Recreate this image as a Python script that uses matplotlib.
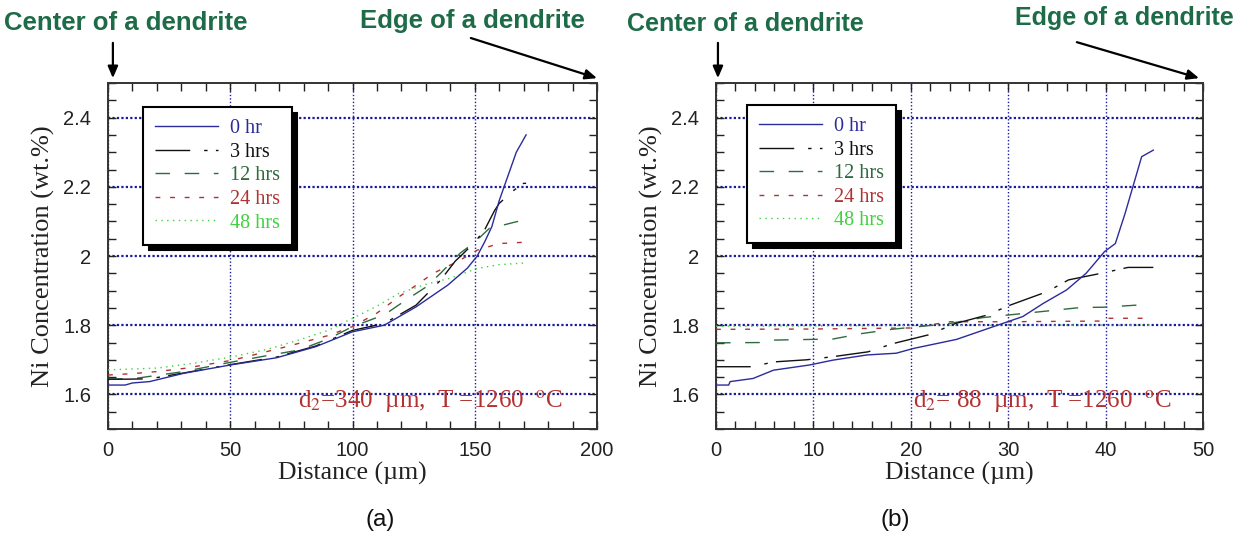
import numpy as np
import matplotlib
matplotlib.use('Agg')
import matplotlib.pyplot as plt
from matplotlib.ticker import MultipleLocator, FixedLocator, FixedFormatter
from matplotlib.lines import Line2D

plt.rcParams['mathtext.fontset'] = 'stix'

# ---- data, panel (a): d2 = 340 um ----
a_0hr_x = [0, 7, 10, 17, 31, 50, 69, 85, 100, 113, 126, 139, 147, 151, 154, 157, 160, 163, 167, 171]
a_0hr_y = [1.627, 1.627, 1.633, 1.637, 1.661, 1.685, 1.706, 1.738, 1.781, 1.80, 1.853, 1.916,
           1.965, 2.00, 2.04, 2.085, 2.16, 2.22, 2.30, 2.35]
a_3hr_x = [0, 7, 17, 31, 50, 69, 85, 100, 113, 126, 136, 142, 145, 150, 154, 158, 160, 166, 170, 171]
a_3hr_y = [1.644, 1.644, 1.645, 1.662, 1.686, 1.708, 1.74, 1.785, 1.805, 1.858, 1.93, 1.985,
           2.005, 2.04, 2.075, 2.13, 2.152, 2.19, 2.21, 2.21]
a_12hr_x = [0, 10, 20, 31, 51, 65, 78, 90, 100, 113, 123, 130, 136, 144, 150, 156, 162, 167, 171]
a_12hr_y = [1.644, 1.645, 1.655, 1.666, 1.694, 1.712, 1.728, 1.76, 1.796, 1.83, 1.878, 1.91,
            1.95, 2.008, 2.04, 2.08, 2.09, 2.099, 2.104]
a_24hr_x = [0, 10, 20, 31, 51, 73, 90, 100, 110, 119, 127, 133, 143, 151, 160, 171]
a_24hr_y = [1.656, 1.66, 1.666, 1.675, 1.699, 1.738, 1.77, 1.796, 1.835, 1.882, 1.92, 1.95,
            1.984, 2.017, 2.036, 2.04]
a_48hr_x = [0, 20, 35, 51, 65, 78, 90, 100, 110, 119, 130, 140, 151, 160, 171]
a_48hr_y = [1.671, 1.676, 1.69, 1.709, 1.73, 1.757, 1.785, 1.82, 1.855, 1.892, 1.918, 1.936,
            1.964, 1.975, 1.98]

# ---- data, panel (b): d2 = 88 um ----
b_0hr_x = [0, 1.3, 1.45, 3.8, 5.9, 9.6, 12, 15.5, 18.5, 20.3, 24.7, 28.5, 31.5, 33.6, 36, 38,
           39.9, 41, 42, 42.8, 43.7, 44.9]
b_0hr_y = [1.627, 1.627, 1.637, 1.646, 1.67, 1.685, 1.699, 1.714, 1.719, 1.733, 1.759, 1.796,
           1.825, 1.863, 1.902, 1.95, 2.013, 2.036, 2.123, 2.2, 2.287, 2.306]
b_3hr_x = [0, 3.6, 6.0, 9.3, 12.0, 15.6, 18.2, 21.8, 24.6, 27.8, 30.2, 34.0, 36.2, 39.9, 42.3, 44.9]
b_3hr_y = [1.68, 1.68, 1.694, 1.70, 1.709, 1.723, 1.747, 1.772, 1.805, 1.829, 1.858, 1.897,
           1.931, 1.952, 1.967, 1.967]
b_12hr_x = [0, 5, 6, 12, 15, 18, 24, 27.4, 30.2, 33.3, 37.4, 39.8, 43.2, 44.5]
b_12hr_y = [1.749, 1.75, 1.757, 1.76, 1.776, 1.788, 1.805, 1.822, 1.83, 1.839, 1.851, 1.852,
            1.858, 1.862]
b_24hr_x = [0, 10, 20, 24, 30, 39.5, 40, 44.6]
b_24hr_y = [1.788, 1.789, 1.792, 1.81, 1.81, 1.812, 1.82, 1.82]
b_48hr_x = [0, 10, 20, 30, 40, 44.6]
b_48hr_y = [1.797, 1.798, 1.799, 1.80, 1.80, 1.80]

labels = ['0 hr', '3 hrs', '12 hrs', '24 hrs', '48 hrs']
colors = ['#2b2b9c', '#111111', '#2f6b3e', '#b23232', '#3fd23f']
styles = ['-', (0, (25, 10, 2.5, 6)), (0, (10.5, 10.5)), (0, (3.5, 7)), (0, (1, 3.2))]

y_ticks = [1.6, 1.8, 2.0, 2.2, 2.4]
y_ticklabels = ['1.6', '1.8', '2', '2.2', '2.4']

serif = 'Liberation Serif'
sans = 'Liberation Sans'
green_txt = '#1d6b47'
red_txt = '#b23232'

fig = plt.figure(figsize=(12.47, 5.33), dpi=100)
W, H = 1247, 533
ax_a = fig.add_axes([108 / W, 1 - 429 / H, 489 / W, 346 / H])
ax_b = fig.add_axes([716 / W, 1 - 429 / H, 487 / W, 346 / H])

panels = [
    (ax_a, [(a_0hr_x, a_0hr_y), (a_3hr_x, a_3hr_y), (a_12hr_x, a_12hr_y),
            (a_24hr_x, a_24hr_y), (a_48hr_x, a_48hr_y)],
     200, 50, 10, 'd$_2$=340  \u00b5m,  T =1260  $^{\\rm o}$C', 0.389, (0.0716, 0.93), '(a)', 380),
    (ax_b, [(b_0hr_x, b_0hr_y), (b_3hr_x, b_3hr_y), (b_12hr_x, b_12hr_y),
            (b_24hr_x, b_24hr_y), (b_48hr_x, b_48hr_y)],
     50, 10, 2, 'd$_2$= 88  \u00b5m,  T =1260  $^{\\rm o}$C', 0.4045, (0.0637, 0.936), '(b)', 895),
]

for ax, series, xmax, xmaj, xmin, note, note_x, leg_pos, tag, tag_x in panels:
    # draw 48 first so the darker curves lie on top
    for i in [4, 3, 2, 1, 0]:
        x, y = series[i]
        ax.plot(x, y, color=colors[i], linestyle=styles[i], lw=1.0, zorder=3)

    ax.set_xlim(0, xmax)
    ax.set_ylim(1.5, 2.5)
    ax.xaxis.set_major_locator(MultipleLocator(xmaj))
    ax.xaxis.set_minor_locator(MultipleLocator(xmin))
    ax.yaxis.set_major_locator(FixedLocator(y_ticks))
    ax.yaxis.set_major_formatter(FixedFormatter(y_ticklabels))
    ax.yaxis.set_minor_locator(MultipleLocator(0.05))
    ax.tick_params(which='both', direction='in', top=True, right=True, length=6, width=1,
                   color='#222222')
    ax.tick_params(axis='y', labelsize=14.5, labelcolor='#222222', pad=12)
    ax.tick_params(axis='x', labelsize=14.5, labelcolor='#222222', pad=9)
    for lab in ax.get_xticklabels() + ax.get_yticklabels():
        lab.set_fontfamily(sans)
    for sp in ax.spines.values():
        sp.set_linewidth(1.4)
        sp.set_color('#333333')

    ax.xaxis.grid(True, which='major', linestyle=(0, (1, 1.5)), color='#1a1a9e', lw=1.0, zorder=1)
    ax.yaxis.grid(True, which='major', linestyle=(0, (1, 1)), color='#1a1a9e', lw=1.6, zorder=1)

    ax.set_xlabel('Distance (\u00b5m)', fontfamily=serif, fontsize=18.5, labelpad=1, color='#222222')
    ax.set_ylabel('Ni Concentration (wt.%)', fontfamily=serif, fontsize=19, labelpad=6,
                  color='#222222')

    ax.text(note_x, 0.061, note, transform=ax.transAxes, fontfamily=serif, fontsize=18,
            color=red_txt, ha='left', va='baseline', zorder=4)

    handles = [Line2D([], [], color=colors[i], linestyle=styles[i], lw=1.0) for i in range(5)]
    leg = ax.legend(handles, labels, loc='upper left', bbox_to_anchor=leg_pos, borderaxespad=0,
                    frameon=True, fancybox=False, edgecolor='black', framealpha=1,
                    shadow={'ox': 4, 'oy': -4, 'color': 'black', 'alpha': 1},
                    prop={'family': serif, 'size': 14.5}, handlelength=3.1, handletextpad=0.6,
                    labelspacing=0.22, borderpad=0.6, labelcolor=colors)
    leg.get_frame().set_linewidth(1.5)
    leg.set_zorder(5)

    fig.text(tag_x / W, 1 - 520 / H, tag, fontfamily=sans, fontsize=17.5, ha='center',
             va='center', color='#111111')

# header labels and arrows
fig.text(4 / W, 1 - 23 / H, 'Center of a dendrite', fontfamily=sans, fontweight='bold',
         fontsize=18.5, color=green_txt, ha='left', va='center')
fig.text(360 / W, 1 - 21 / H, 'Edge of a dendrite', fontfamily=sans, fontweight='bold',
         fontsize=18.5, color=green_txt, ha='left', va='center')
fig.text(627 / W, 1 - 24 / H, 'Center of a dendrite', fontfamily=sans, fontweight='bold',
         fontsize=18, color=green_txt, ha='left', va='center')
fig.text(1015 / W, 1 - 18 / H, 'Edge of a dendrite', fontfamily=sans, fontweight='bold',
         fontsize=18, color=green_txt, ha='left', va='center')

arrow = dict(arrowstyle='-|>,head_length=0.7,head_width=0.3', color='black', lw=1.6,
             shrinkA=0, shrinkB=0)
ax_a.annotate('', xy=(0.01, 1.014), xytext=(0.01, 1.116), xycoords='axes fraction',
              arrowprops=arrow, annotation_clip=False)
ax_a.annotate('', xy=(1.0, 1.014), xytext=(0.742, 1.13), xycoords='axes fraction',
              arrowprops=arrow, annotation_clip=False)
ax_b.annotate('', xy=(0.004, 1.014), xytext=(0.004, 1.116), xycoords='axes fraction',
              arrowprops=arrow, annotation_clip=False)
ax_b.annotate('', xy=(0.992, 1.014), xytext=(0.741, 1.118), xycoords='axes fraction',
              arrowprops=arrow, annotation_clip=False)

fig.savefig('out.png', dpi=100, facecolor='white')
